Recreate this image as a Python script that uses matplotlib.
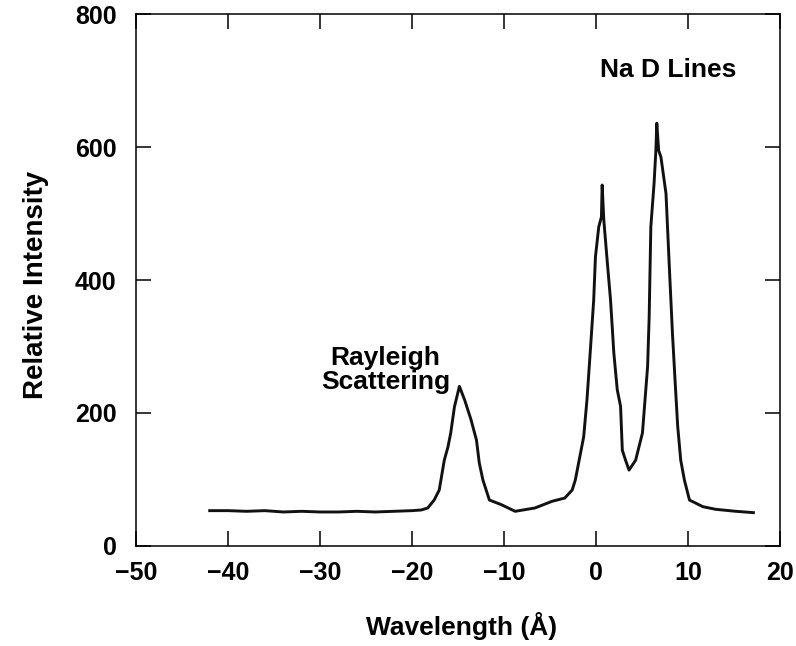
"""Rayleigh scattering and Na D lines spectrum"""

import matplotlib
matplotlib.use("Agg")
import matplotlib.pyplot as plt

plt.rcParams["font.family"] = ["Liberation Sans", "DejaVu Sans"]
plt.rcParams["font.weight"] = "bold"

# spectrum (wavelength in Angstrom, relative intensity)
wavelength = [
    -42.0, -40.0, -38.0, -36.0, -34.0, -32.0, -30.0, -28.0, -26.0, -24.0,
    -22.0, -20.0, -19.0, -18.3, -17.6, -17.05, -16.5, -16.1, -15.8, -15.4,
    -14.86, -14.3, -13.6, -13.0, -12.7, -12.3, -11.6, -10.3, -8.8, -6.65,
    -4.8, -3.4, -2.6, -2.26, -1.35, -0.99, -0.62, -0.26, -0.07, 0.29,
    0.58, 0.66, 0.84, 1.2, 1.57, 1.93, 2.3, 2.66, 2.85, 3.2,
    3.58, 4.3, 5.04, 5.6, 5.77, 5.95, 6.3, 6.5, 6.6, 6.8,
    7.05, 7.6, 7.96, 8.3, 8.6, 8.87, 9.2, 9.6, 10.15, 11.6,
    13.0, 15.2, 17.1,
]
intensity = [
    53, 53, 52, 53, 51, 52, 51, 51, 52, 51,
    52, 53, 54, 57, 69, 84, 129, 149, 170, 209,
    240, 220, 190, 159, 125, 99, 69, 62, 52, 57,
    67, 72, 84, 99, 164, 220, 295, 370, 435, 480,
    495, 543, 490, 430, 370, 290, 235, 210, 144, 129,
    114, 129, 170, 270, 345, 480, 545, 595, 636, 595,
    585, 530, 420, 320, 245, 180, 129, 99, 69, 59,
    55, 52, 50,
]

x_ticks = [-50, -40, -30, -20, -10, 0, 10, 20]
y_ticks = [0, 200, 400, 600, 800]

fig = plt.figure(figsize=(7.96, 6.46), dpi=100)
ax = fig.add_axes([0.171, 0.155, 0.809, 0.823])

ax.plot(wavelength, intensity, color="#111111", linewidth=2.1)

ax.set_xlim(-50, 20)
ax.set_ylim(0, 800)
ax.set_xticks(x_ticks)
ax.set_yticks(y_ticks)
ax.set_xticklabels([f"{v}".replace("-", "\u2212") for v in x_ticks])
ax.tick_params(direction="in", length=11, width=1.1, top=True, right=True,
               labelsize=18, pad=11)
ax.tick_params(axis="y", pad=14)
for s in ax.spines.values():
    s.set_linewidth(1.1)

ax.set_xlabel("Wavelength (\u00c5)", fontsize=19, fontweight="bold")
ax.set_ylabel("Relative Intensity", fontsize=20, fontweight="bold")
ax.xaxis.set_label_coords(0.505, -0.125)
ax.yaxis.set_label_coords(-0.135, 0.49)

ax.text(7.8, 716, "Na D Lines", ha="center", va="center", fontsize=19, fontweight="bold")
ax.text(-22.9, 265, "Rayleigh\nScattering", ha="center", va="center", fontsize=19,
        fontweight="bold", linespacing=1.0)

fig.savefig("out.png", dpi=100)
plt.close(fig)
